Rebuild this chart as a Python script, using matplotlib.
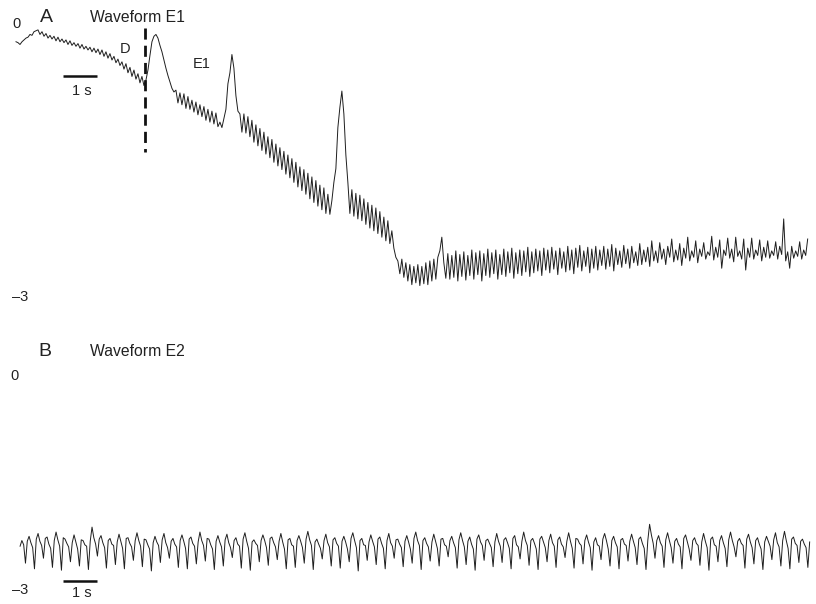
import numpy as np
import matplotlib
matplotlib.use("Agg")
import matplotlib.pyplot as plt

plt.rcParams['font.family'] = ['Liberation Sans', 'DejaVu Sans']

# --- data (volts) ---
DT_A = 0.0588   # s between samples, trace A
DT_B = 0.0529   # s between samples, trace B
T0_B = 0.12

trace_a = [
    # start
    -0.26, -0.27, -0.29, -0.26, -0.24, -0.22, -0.21, -0.18, -0.19, -0.15, -0.14,
    # D
    -0.13, -0.18, -0.15, -0.20, -0.17, -0.22, -0.19, -0.23, -0.20, -0.25, -0.21, -0.26,
    -0.23, -0.27, -0.24, -0.29, -0.25, -0.30, -0.27, -0.31, -0.28, -0.33, -0.29, -0.34,
    -0.31, -0.35, -0.32, -0.37, -0.33, -0.38, -0.34, -0.40, -0.35, -0.42, -0.37, -0.44,
    -0.39, -0.46, -0.42, -0.49, -0.45, -0.52, -0.48, -0.56, -0.50, -0.60, -0.54, -0.64,
    -0.57, -0.67, -0.61, -0.71, -0.64, -0.74,
    # E1 first peak
    -0.68, -0.57, -0.41, -0.26, -0.20, -0.18, -0.22, -0.30, -0.37, -0.46, -0.55, -0.63,
    -0.70, -0.77, -0.81,
    -0.79, -0.93, -0.82, -0.95, -0.83, -0.99, -0.86, -1.00, -0.90, -1.03, -0.92, -1.06,
    -0.95, -1.08, -0.97, -1.12, -1.00, -1.14, -1.02, -1.16, -1.04, -1.19,
    # second peak
    -1.14, -1.20, -1.10, -1.00, -0.72, -0.60, -0.40, -0.55, -0.85, -1.02, -1.05,
    -1.25, -1.05, -1.26, -1.08, -1.30, -1.12, -1.36, -1.17, -1.40, -1.21, -1.45, -1.25,
    -1.49, -1.30, -1.53, -1.33, -1.58, -1.38, -1.62, -1.42, -1.66, -1.46, -1.71, -1.50,
    -1.75, -1.54, -1.80, -1.58, -1.85, -1.63, -1.89, -1.66, -1.93, -1.70, -1.98, -1.74,
    -2.02, -1.78, -2.06, -1.83, -2.10, -1.86, -2.14, -1.93,
    # third peak
    -2.15, -2.00, -1.80, -1.65, -1.20, -0.98, -0.80, -1.05, -1.50, -1.80,
    -2.14, -1.88, -2.17, -1.92, -2.20, -1.94, -2.22, -1.98, -2.26, -2.02, -2.30, -2.05,
    -2.33, -2.08, -2.36, -2.12, -2.40, -2.18, -2.44, -2.22, -2.47, -2.33,
    -2.52, -2.62,
    -2.66, -2.80, -2.64, -2.84, -2.68, -2.88, -2.70, -2.92, -2.72, -2.90, -2.70, -2.93,
    -2.72, -2.91, -2.68, -2.92, -2.66, -2.88, -2.64, -2.86, -2.62,
    -2.55, -2.40, -2.68, -2.85,
    # late E1
    -2.58, -2.86, -2.60, -2.84, -2.55, -2.88, -2.59, -2.83, -2.56, -2.87, -2.60, -2.82,
    -2.54, -2.86, -2.57, -2.81, -2.55, -2.88, -2.58, -2.82, -2.53, -2.84, -2.57, -2.80,
    -2.54, -2.86, -2.59, -2.81, -2.53, -2.83, -2.56, -2.79, -2.52, -2.85, -2.57, -2.80,
    -2.54, -2.82, -2.55, -2.78, -2.51, -2.83, -2.56, -2.79, -2.53, -2.77, -2.55, -2.82,
    -2.52, -2.76, -2.54,
    -2.79, -2.51, -2.75, -2.55, -2.81, -2.52, -2.74, -2.56, -2.78, -2.50, -2.76, -2.54,
    -2.80, -2.52, -2.73, -2.49, -2.77, -2.55, -2.72, -2.51, -2.79, -2.53, -2.74, -2.50,
    -2.76, -2.54, -2.71, -2.50, -2.75, -2.53, -2.72, -2.48, -2.77, -2.52, -2.70, -2.55,
    -2.73, -2.49, -2.69, -2.53, -2.74, -2.50, -2.68, -2.56, -2.71, -2.47, -2.70, -2.54,
    -2.67, -2.51, -2.72,
    -2.44, -2.66, -2.55, -2.68, -2.46, -2.64, -2.53, -2.70, -2.50, -2.62, -2.42, -2.67,
    -2.54, -2.65, -2.47, -2.71, -2.52, -2.63, -2.40, -2.66, -2.55, -2.62, -2.44, -2.68,
    -2.53, -2.61, -2.46, -2.64, -2.56, -2.60, -2.39, -2.65, -2.51, -2.62, -2.43, -2.74,
    -2.54, -2.60, -2.41, -2.63, -2.53, -2.67, -2.40, -2.61, -2.55, -2.64, -2.42, -2.76,
    -2.52, -2.62, -2.41, -2.64, -2.54, -2.60, -2.43, -2.66, -2.51, -2.62, -2.44, -2.63,
    -2.55, -2.60, -2.45, -2.64, -2.50, -2.59, -2.20, -2.66, -2.56, -2.74, -2.50, -2.63,
    -2.55, -2.61, -2.45, -2.64, -2.54, -2.60, -2.42,
]

trace_b = [
    -2.38, -2.30, -2.36, -2.62, -2.31,  -2.24, -2.33, -2.40, -2.70, -2.28,
    -2.20, -2.31, -2.37, -2.55, -2.27,  -2.25, -2.35, -2.41, -2.68, -2.30,
    -2.18, -2.29, -2.38, -2.72, -2.26,  -2.28, -2.34, -2.39, -2.60, -2.33,
    -2.22, -2.32, -2.42, -2.66, -2.29,  -2.30, -2.36, -2.38, -2.71, -2.31,
    -2.11, -2.26, -2.35, -2.52, -2.28,  -2.23, -2.33, -2.40, -2.69, -2.30,
    -2.27, -2.35, -2.37, -2.64, -2.32,  -2.21, -2.31, -2.41, -2.70, -2.27,
    -2.26, -2.34, -2.39, -2.58, -2.30,  -2.19, -2.30, -2.38, -2.67, -2.28,
    -2.29, -2.36, -2.42, -2.73, -2.33,  -2.24, -2.32, -2.37, -2.61, -2.29,
    -2.20, -2.33, -2.40, -2.55, -2.31,  -2.27, -2.35, -2.39, -2.68, -2.30,
    -2.22, -2.31, -2.41, -2.70, -2.28,  -2.25, -2.34, -2.38, -2.63, -2.32,
    -2.18, -2.30, -2.37, -2.59, -2.27,  -2.28, -2.36, -2.42, -2.71, -2.31,
    -2.23, -2.32, -2.39, -2.66, -2.29,  -2.21, -2.33, -2.40, -2.54, -2.30,
    -2.26, -2.35, -2.38, -2.69, -2.28,  -2.19, -2.31, -2.41, -2.72, -2.32,
    -2.29, -2.34, -2.37, -2.60, -2.30,  -2.22, -2.30, -2.40, -2.65, -2.27,
    -2.25, -2.33, -2.39, -2.57, -2.31,  -2.20, -2.32, -2.42, -2.70, -2.29,
    -2.27, -2.36, -2.38, -2.68, -2.30,  -2.23, -2.31, -2.40, -2.62, -2.28,
    -2.17, -2.29, -2.37, -2.71, -2.32,  -2.28, -2.35, -2.41, -2.56, -2.30,
    -2.21, -2.33, -2.39, -2.66, -2.29,  -2.26, -2.34, -2.38, -2.69, -2.31,
    -2.24, -2.32, -2.42, -2.60, -2.27,  -2.19, -2.30, -2.40, -2.73, -2.30,
    -2.27, -2.36, -2.37, -2.58, -2.32,  -2.22, -2.31, -2.39, -2.64, -2.28,
    -2.25, -2.34, -2.41, -2.70, -2.30,  -2.20, -2.33, -2.38, -2.55, -2.29,
    -2.28, -2.35, -2.40, -2.67, -2.31,  -2.23, -2.32, -2.42, -2.62, -2.27,
    -2.18, -2.30, -2.37, -2.71, -2.30,  -2.26, -2.34, -2.39, -2.59, -2.32,
    -2.21, -2.31, -2.41, -2.66, -2.28,  -2.27, -2.36, -2.38, -2.53, -2.30,
    -2.24, -2.33, -2.40, -2.69, -2.29,  -2.19, -2.30, -2.39, -2.64, -2.31,
    -2.25, -2.35, -2.42, -2.72, -2.28,  -2.22, -2.32, -2.37, -2.58, -2.30,
    -2.28, -2.34, -2.40, -2.67, -2.32,  -2.20, -2.31, -2.38, -2.61, -2.29,
    -2.26, -2.33, -2.41, -2.70, -2.27,  -2.23, -2.36, -2.39, -2.56, -2.31,
    -2.18, -2.30, -2.37, -2.65, -2.30,  -2.27, -2.34, -2.42, -2.71, -2.28,
    -2.24, -2.32, -2.40, -2.60, -2.30,  -2.21, -2.33, -2.38, -2.68, -2.29,
    -2.25, -2.35, -2.39, -2.54, -2.31,  -2.19, -2.31, -2.41, -2.69, -2.27,
    -2.28, -2.34, -2.37, -2.63, -2.30,  -2.22, -2.32, -2.40, -2.72, -2.32,
    -2.26, -2.36, -2.38, -2.57, -2.28,  -2.20, -2.30, -2.42, -2.66, -2.30,
    -2.24, -2.33, -2.39, -2.70, -2.29,  -2.27, -2.35, -2.37, -2.59, -2.31,
    -2.21, -2.31, -2.40, -2.64, -2.28,  -2.25, -2.34, -2.41, -2.71, -2.30,
    -2.07, -2.22, -2.34, -2.55, -2.30,  -2.23, -2.33, -2.38, -2.68, -2.29,
    -2.19, -2.30, -2.40, -2.62, -2.31,  -2.27, -2.35, -2.39, -2.70, -2.27,
    -2.22, -2.32, -2.42, -2.58, -2.30,  -2.26, -2.34, -2.37, -2.65, -2.32,
    -2.20, -2.31, -2.40, -2.72, -2.28,  -2.25, -2.36, -2.38, -2.60, -2.30,
    -2.23, -2.33, -2.41, -2.67, -2.29,  -2.18, -2.30, -2.39, -2.53, -2.31,
    -2.27, -2.34, -2.37, -2.69, -2.28,  -2.21, -2.32, -2.40, -2.63, -2.30,
    -2.26, -2.35, -2.42, -2.71, -2.32,  -2.24, -2.31, -2.38, -2.57, -2.29,
    -2.19, -2.33, -2.39, -2.66, -2.30,  -2.17, -2.30, -2.41, -2.70, -2.28,
    -2.25, -2.34, -2.37, -2.61, -2.31,  -2.28, -2.35, -2.40, -2.68, -2.32,
]

# time of the D -> E1 transition and scale bar positions
dashed_t = 3.79
scale_bar_t = (1.38, 2.38)

W, H = 816, 604
fig = plt.figure(figsize=(W / 100, H / 100), dpi=100)

def px(x, y):
    return x / W, 1 - y / H

# panel A: 0 V at y=18px, 0.01095 V per px
ax_a = fig.add_axes([0, 1 - 320 / H, 1, 320 / H])
ax_a.set_xlim(-16 / 34, 800 / 34)
ax_a.set_ylim(-(320 - 18) * 0.01095, 18 * 0.01095)
ax_a.axis('off')

# panel B: 0 V at y=378px, 0.01415 V per px
ax_b = fig.add_axes([0, 0, 1, 284 / H])
ax_b.set_xlim(-16 / 34, 800 / 34)
ax_b.set_ylim(-(604 - 378) * 0.01415, (378 - 320) * 0.01415)
ax_b.axis('off')

t_a = np.arange(len(trace_a)) * DT_A
t_b = T0_B + np.arange(len(trace_b)) * DT_B

ax_a.plot(t_a, trace_a, color='#1e1e1e', lw=0.7)
ax_b.plot(t_b, trace_b, color='#1e1e1e', lw=0.7)

ax_a.plot([dashed_t, dashed_t], [-0.11, -1.47], color='#111111', lw=2.0,
          linestyle=(0, (4, 2.2)))

ax_a.plot(scale_bar_t, [-0.635, -0.635], color='#111111', lw=1.8, solid_capstyle='butt')
ax_b.plot(scale_bar_t, [-2.873, -2.873], color='#111111', lw=1.8, solid_capstyle='butt')

tc = '#222222'
fig.text(*px(40, 22), 'A', fontsize=14, color=tc, va='baseline')
fig.text(*px(90, 22), 'Waveform E1', fontsize=11.3, color=tc, va='baseline')
fig.text(*px(12, 28), '0', fontsize=10.5, color=tc, va='baseline')
fig.text(*px(120, 53), 'D', fontsize=10.5, color=tc, va='baseline')
fig.text(*px(193, 68), 'E1', fontsize=10.5, color=tc, va='baseline')
fig.text(*px(72, 95), '1 s', fontsize=10.5, color=tc, va='baseline')
fig.text(*px(12, 301), '\u20133', fontsize=10.5, color=tc, va='baseline')

fig.text(*px(38, 356), 'B', fontsize=14, color=tc, va='baseline')
fig.text(*px(90, 356), 'Waveform E2', fontsize=11.3, color=tc, va='baseline')
fig.text(*px(10, 380), '0', fontsize=10.5, color=tc, va='baseline')
fig.text(*px(12, 594), '\u20133', fontsize=10.5, color=tc, va='baseline')
fig.text(*px(72, 597), '1 s', fontsize=10.5, color=tc, va='baseline')

fig.savefig('out.png', dpi=100)
